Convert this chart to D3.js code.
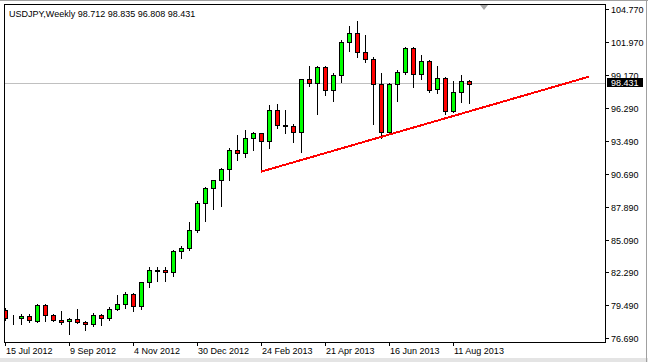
<!DOCTYPE html>
<html>
<head>
<meta charset="utf-8">
<script src="https://cdn.jsdelivr.net/npm/d3@7"></script>
<style>
  html, body { margin: 0; padding: 0; background: #fff; }
  svg { display: block; }
  text { font-family: "Liberation Sans", Arial, sans-serif; font-size: 9px; fill: #000; }
</style>
</head>
<body>
<svg id="chart" width="648" height="362"></svg>
<script>
// weekly USDJPY candles, first bar = week of 15 Jul 2012
const firstWeek = new Date(Date.UTC(2012, 6, 15));
const open = [79.17, 78.52, 78.46, 78.65, 78.23, 79.59, 78.71, 78.29, 78.20, 78.37,
  78.12, 77.94, 78.71, 78.46, 79.23, 79.65, 80.51, 79.51, 81.53, 82.52,
  82.54, 82.45, 84.16, 84.43, 85.97, 88.27, 89.55, 90.24, 91.17, 92.80,
  92.54, 93.82, 94.25, 93.56, 96.21, 94.93, 94.83, 94.33, 98.86, 98.51,
  99.88, 97.92, 99.20, 102.01, 102.78, 101.16, 100.56, 98.45, 94.33, 98.45,
  99.45, 101.50, 99.28, 100.39, 98.00, 98.94, 96.12, 97.75, 98.712];
const high = [79.34, 78.74, 78.82, 78.80, 79.68, 79.70, 78.80, 79.08, 78.46, 79.25,
  78.19, 78.88, 78.80, 79.45, 80.45, 80.68, 80.64, 81.55, 82.82, 82.82,
  82.82, 84.29, 84.65, 86.68, 88.47, 89.66, 90.29, 91.29, 92.97, 94.10,
  94.50, 94.38, 94.30, 96.66, 96.72, 96.24, 95.04, 98.92, 99.99, 99.99,
  99.99, 99.42, 102.24, 103.38, 103.81, 102.61, 100.73, 99.37, 98.54, 99.62,
  101.59, 101.57, 100.90, 100.48, 99.97, 99.01, 98.69, 99.20, 98.835];
const low = [78.31, 77.94, 77.94, 78.12, 78.12, 78.25, 78.23, 77.97, 77.09, 78.03,
  77.43, 77.77, 77.89, 78.29, 79.17, 79.31, 79.08, 79.23, 81.09, 81.64,
  81.64, 82.09, 83.63, 84.31, 85.82, 86.79, 87.81, 88.04, 90.29, 91.99,
  92.25, 92.78, 90.97, 92.97, 94.67, 94.25, 93.53, 92.63, 98.31, 95.87,
  97.54, 97.03, 98.60, 101.30, 100.73, 100.31, 95.01, 93.87, 94.19, 96.98,
  99.28, 98.22, 98.91, 97.75, 97.66, 95.87, 96.04, 96.94, 96.808];
const close = [78.46, 78.50, 78.65, 78.31, 79.59, 78.71, 78.29, 78.17, 78.37, 78.12,
  77.94, 78.71, 78.46, 79.25, 79.65, 80.51, 79.51, 81.53, 82.54, 82.56,
  82.45, 84.16, 84.43, 85.97, 88.27, 89.55, 90.24, 91.17, 92.80, 92.54,
  93.82, 94.25, 93.56, 96.21, 94.96, 94.83, 94.33, 98.86, 98.51, 99.88,
  97.92, 99.20, 102.01, 102.78, 101.16, 100.56, 98.45, 94.33, 98.45, 99.45,
  101.50, 99.28, 100.39, 97.92, 98.94, 96.12, 97.75, 98.71, 98.431];

const priceTicks = ["104.770", "101.970", "99.170", "96.290", "93.490", "90.690",
  "87.890", "85.090", "82.290", "79.490", "76.690"];
const dateTicks = ["15 Jul 2012", "9 Sep 2012", "4 Nov 2012", "30 Dec 2012",
  "24 Feb 2013", "21 Apr 2013", "16 Jun 2013", "11 Aug 2013"];

// trend line drawn by hand on the chart
const trendDates = ["24 Feb 2013", "8 Dec 2013"];
const trendPrices = [90.97, 99.08];

const bid = close[close.length - 1];
const title = "USDJPY,Weekly  98.712 98.835 96.808 98.431";

const parse = d3.utcParse("%d %b %Y");
const weeks = open.map((_, i) => d3.utcWeek.offset(firstWeek, i));

const plotL = 4, plotT = 4, plotR = 606, plotB = 342;

const x = d3.scaleUtc()
  .domain([firstWeek, d3.utcWeek.offset(firstWeek, 75)])
  .range([5, 605]);
const y = d3.scaleLinear()
  .domain([76.69, 104.77])
  .range([339, 10]);

const px = v => Math.round(v);
const svg = d3.select('#chart');

// window edges
svg.append('rect').attr('x', 0).attr('y', 0).attr('width', 648).attr('height', 362).attr('fill', '#fff');
svg.append('rect').attr('x', 0).attr('y', 358).attr('width', 648).attr('height', 4).attr('fill', '#e4e4e4');
svg.append('line').attr('x1', 0).attr('x2', 648).attr('y1', 0.5).attr('y2', 0.5)
  .attr('stroke', '#a0a0a0');
svg.append('line').attr('x1', 646.5).attr('x2', 646.5).attr('y1', 0).attr('y2', 362)
  .attr('stroke', '#a0a0a0');

svg.append('defs').append('clipPath').attr('id', 'plot')
  .append('rect').attr('x', plotL + 1).attr('y', plotT + 1)
  .attr('width', plotR - plotL - 2).attr('height', plotB - plotT - 1);

const plot = svg.append('g').attr('clip-path', 'url(#plot)');

// bid line
plot.append('line')
  .attr('x1', plotL).attr('x2', plotR)
  .attr('y1', px(y(bid)) - 0.5).attr('y2', px(y(bid)) - 0.5)
  .attr('stroke', '#c0c0c0');

// chart shift marker
svg.append('path')
  .attr('d', 'M480,5 L488,5 L484,10 Z')
  .attr('fill', '#a8a8a8');

// candles
const candle = plot.selectAll('g.candle')
  .data(weeks.map((d, i) => ({date: d, o: open[i], h: high[i], l: low[i], c: close[i]})))
  .enter().append('g')
  .attr('class', 'candle')
  .attr('shape-rendering', 'crispEdges');

candle.append('line')
  .attr('x1', d => px(x(d.date)) + 0.5)
  .attr('x2', d => px(x(d.date)) + 0.5)
  .attr('y1', d => px(y(d.h)))
  .attr('y2', d => px(y(d.l)) + 1)
  .attr('stroke', '#000');

candle.append('rect')
  .attr('x', d => px(x(d.date)) - 1.5)
  .attr('y', d => px(y(Math.max(d.o, d.c))) + 0.5)
  .attr('width', 4)
  .attr('height', d => Math.max(0, px(y(Math.min(d.o, d.c))) - px(y(Math.max(d.o, d.c)))))
  .attr('fill', d => d.c >= d.o ? '#00ff00' : '#ff0000')
  .attr('stroke', '#000');

// trend line
plot.append('line')
  .attr('x1', x(parse(trendDates[0]))).attr('y1', y(trendPrices[0]))
  .attr('x2', x(parse(trendDates[1]))).attr('y2', y(trendPrices[1]))
  .attr('stroke', '#ff0000')
  .attr('stroke-width', 2)
  .attr('shape-rendering', 'crispEdges');

// frame
const frame = svg.append('g').attr('stroke', '#000').attr('shape-rendering', 'crispEdges');
frame.append('line').attr('x1', plotL + 0.5).attr('x2', plotL + 0.5).attr('y1', plotT).attr('y2', plotB + 1);
frame.append('line').attr('x1', plotL).attr('x2', plotR).attr('y1', plotT + 0.5).attr('y2', plotT + 0.5);
frame.append('line').attr('x1', plotR - 0.5).attr('x2', plotR - 0.5).attr('y1', plotT).attr('y2', plotB + 1);
frame.append('line').attr('x1', plotL).attr('x2', plotR).attr('y1', plotB + 0.5).attr('y2', plotB + 0.5);

// price axis
const yAxis = svg.append('g');
priceTicks.forEach(t => {
  const ty = px(y(+t));
  yAxis.append('line')
    .attr('x1', plotR).attr('x2', plotR + 3)
    .attr('y1', ty - 0.5).attr('y2', ty - 0.5)
    .attr('stroke', '#000');
  yAxis.append('text')
    .attr('x', plotR + 5).attr('y', ty + 2.5)
    .text(t);
});

// bid label, drawn over the axis like the terminal does
const by = px(y(bid));
svg.append('rect')
  .attr('x', plotR + 1).attr('y', by - 6)
  .attr('width', 36).attr('height', 9)
  .attr('fill', '#000');
svg.append('text')
  .attr('x', plotR + 5).attr('y', by + 2)
  .style('fill', '#fff')
  .text(bid.toFixed(3));

// time axis
const xAxis = svg.append('g');
dateTicks.forEach(t => {
  const tx = px(x(parse(t)));
  xAxis.append('line')
    .attr('x1', tx + 0.5).attr('x2', tx + 0.5)
    .attr('y1', plotB).attr('y2', plotB + 4)
    .attr('stroke', '#000');
  xAxis.append('text')
    .attr('x', tx + 1).attr('y', 354)
    .text(t);
});

// header
svg.append('text')
  .attr('x', 9).attr('y', 17)
  .text(title);
</script>
</body>
</html>
